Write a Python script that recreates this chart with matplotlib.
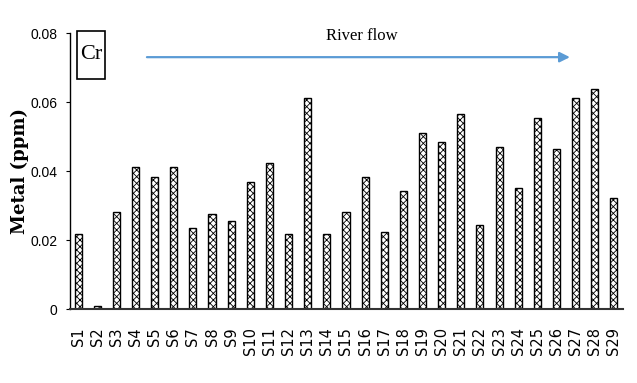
import matplotlib
matplotlib.use("Agg")
import matplotlib.pyplot as plt
from matplotlib import font_manager
from matplotlib.patches import Rectangle

sites = [f"S{i}" for i in range(1, 30)]
cr_ppm = [0.0217, 0.0009, 0.0282, 0.0411, 0.0384, 0.0411, 0.0236, 0.0276, 0.0256,
          0.0369, 0.0424, 0.0217, 0.0611, 0.0217, 0.0282, 0.0384, 0.0222, 0.0343,
          0.0511, 0.0485, 0.0564, 0.0243, 0.0470, 0.0350, 0.0553, 0.0464, 0.0611,
          0.0638, 0.0323]
yticks = [0, 0.02, 0.04, 0.06, 0.08]
ytick_labels = ["0", "0.02", "0.04", "0.06", "0.08"]

installed = {f.name for f in font_manager.fontManager.ttflist}
narrow = "Liberation Sans Narrow" if "Liberation Sans Narrow" in installed else "Liberation Sans"

plt.rcParams["hatch.linewidth"] = 0.6

fig = plt.figure(figsize=(6.37, 3.83), dpi=100)
ax = fig.add_axes([0.1099, 0.1932, 0.868, 0.7206])

x = list(range(len(sites)))
ax.bar(x, cr_ppm, width=0.37, color="white", edgecolor="black",
       linewidth=1.0, hatch="xxxxx")

ax.set_xlim(-0.42, 28.47)
ax.set_ylim(0, 0.08)
ax.set_yticks(yticks)
ax.set_yticklabels(ytick_labels, fontfamily=narrow, fontsize=10)
ax.set_xticks(x)
ax.set_xticklabels(sites, rotation=90, fontfamily="DejaVu Sans", fontsize=10.5)
ax.tick_params(axis="x", length=0, pad=13)
ax.tick_params(axis="y", length=3, direction="out", pad=6)

for s in ("top", "right"):
    ax.spines[s].set_visible(False)
ax.spines["left"].set_linewidth(1.0)
ax.spines["bottom"].set_linewidth(1.5)
ax.spines["bottom"].set_color("#333333")

ax.set_ylabel("Metal (ppm)", fontfamily="DejaVu Serif", fontweight="bold",
              fontsize=13)
ax.yaxis.set_label_coords(-0.075, 0.5)

# element label in a box
ax.add_patch(Rectangle((-0.05, 0.0667), 1.46, 0.0139, facecolor="white",
                       edgecolor="black", linewidth=1.2, clip_on=False, zorder=3))
ax.text(0.68, 0.0737, "Cr", fontfamily="Liberation Serif", fontsize=16,
        ha="center", va="center", zorder=4)

# river flow direction arrow
ax.annotate("", xy=(25.7, 0.0730), xytext=(3.6, 0.0730),
            arrowprops=dict(arrowstyle="-|>,head_length=0.6,head_width=0.3",
                            color="#5B9BD5", linewidth=1.6, shrinkA=0, shrinkB=0))
ax.text(14.84, 0.0790, "River flow", fontfamily="Liberation Serif", fontsize=12,
        ha="center", va="center")

fig.savefig("out.png", dpi=100)
